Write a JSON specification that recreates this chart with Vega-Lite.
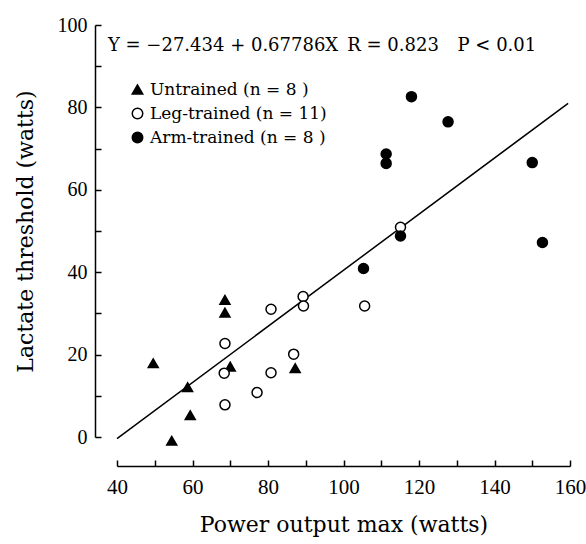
{
  "$schema": "https://vega.github.io/schema/vega-lite/v6.json",
  "width": 453,
  "height": 412,
  "autosize": "none",
  "padding": {"left": 117, "top": 25, "right": 16, "bottom": 107},
  "background": "white",
  "config": {
    "view": {"stroke": null},
    "font": "DejaVu Serif",
    "axis": {
      "grid": false,
      "domainColor": "black",
      "tickColor": "black",
      "labelColor": "black",
      "titleColor": "black",
      "labelFont": "Liberation Serif",
      "titleFont": "DejaVu Serif",
      "titleFontWeight": "normal",
      "domainWidth": 1.5,
      "tickWidth": 1.5,
      "labelOverlap": false
    }
  },
  "datasets": {
    "points": [
      {"x": 68.6, "y": 33.3, "group": "Untrained"},
      {"x": 68.6, "y": 30.2, "group": "Untrained"},
      {"x": 49.6, "y": 17.9, "group": "Untrained"},
      {"x": 70.0, "y": 17.1, "group": "Untrained"},
      {"x": 87.2, "y": 16.7, "group": "Untrained"},
      {"x": 58.7, "y": 12.1, "group": "Untrained"},
      {"x": 59.4, "y": 5.3, "group": "Untrained"},
      {"x": 54.5, "y": -0.9, "group": "Untrained"},
      {"x": 68.6, "y": 22.7, "group": "Leg-trained"},
      {"x": 68.4, "y": 15.5, "group": "Leg-trained"},
      {"x": 68.6, "y": 7.8, "group": "Leg-trained"},
      {"x": 77.1, "y": 10.8, "group": "Leg-trained"},
      {"x": 80.8, "y": 15.6, "group": "Leg-trained"},
      {"x": 80.8, "y": 31.0, "group": "Leg-trained"},
      {"x": 86.8, "y": 20.1, "group": "Leg-trained"},
      {"x": 89.3, "y": 34.1, "group": "Leg-trained"},
      {"x": 89.4, "y": 31.8, "group": "Leg-trained"},
      {"x": 105.6, "y": 31.8, "group": "Leg-trained"},
      {"x": 115.1, "y": 50.9, "group": "Leg-trained"},
      {"x": 111.3, "y": 68.7, "group": "Arm-trained"},
      {"x": 111.3, "y": 66.4, "group": "Arm-trained"},
      {"x": 150.0, "y": 66.6, "group": "Arm-trained"},
      {"x": 152.7, "y": 47.2, "group": "Arm-trained"},
      {"x": 115.1, "y": 48.8, "group": "Arm-trained"},
      {"x": 105.3, "y": 40.9, "group": "Arm-trained"},
      {"x": 118.0, "y": 82.6, "group": "Arm-trained"},
      {"x": 127.7, "y": 76.5, "group": "Arm-trained"}
    ],
    "fit": [
      {"x": 40, "y": -0.4},
      {"x": 159.5, "y": 81.0}
    ],
    "note": [
      {"x": 37.6, "y": 94.8, "text": "Y = −27.434 + 0.67786X"},
      {"x": 101.0, "y": 94.8, "text": "R = 0.823"},
      {"x": 130.2, "y": 94.8, "text": "P < 0.01"}
    ]
  },
  "encoding": {
    "x": {
      "field": "x",
      "type": "quantitative",
      "scale": {"domain": [40, 160], "nice": false, "zero": false},
      "axis": {
        "title": "Power output max (watts)",
        "values": [40, 50, 60, 70, 80, 90, 100, 110, 120, 130, 140, 150, 160],
        "labelExpr": "datum.value % 20 == 0 ? datum.label : ''",
        "tickSize": -6,
        "offset": 29,
        "labelFontSize": 21,
        "labelPadding": 16,
        "titleFontSize": 22,
        "titlePadding": 17,
        "labelFlush": false
      }
    },
    "y": {
      "field": "y",
      "type": "quantitative",
      "scale": {"domain": [0, 100], "nice": false},
      "axis": {
        "title": "Lactate threshold (watts)",
        "values": [0, 10, 20, 30, 40, 50, 60, 70, 80, 90, 100],
        "labelExpr": "datum.value % 20 == 0 ? datum.label : ''",
        "tickSize": -6,
        "offset": 22,
        "labelFontSize": 20,
        "labelPadding": 14,
        "titleFontSize": 22,
        "titlePadding": 20,
        "labelFlush": false
      }
    }
  },
  "layer": [
    {
      "data": {"name": "fit"},
      "mark": {"type": "line", "color": "black", "strokeWidth": 1.5}
    },
    {
      "data": {"name": "points"},
      "mark": {"type": "point", "filled": true, "strokeWidth": 1.5, "size": 100, "opacity": 1},
      "encoding": {
        "shape": {
          "field": "group",
          "type": "nominal",
          "scale": {"domain": ["Untrained", "Leg-trained", "Arm-trained"], "range": ["triangle-up", "circle", "circle"]},
          "legend": {
            "title": null,
            "orient": "none",
            "legendX": 12,
            "legendY": 56,
            "labelFontSize": 17,
            "labelFont": "DejaVu Serif",
            "labelColor": "black",
            "symbolSize": 110,
            "rowPadding": 6,
            "symbolStrokeWidth": 1.5,
            "labelLimit": 300,
            "labelExpr": "datum.label == 'Untrained' ? 'Untrained (n = 8 )' : datum.label == 'Leg-trained' ? 'Leg-trained (n = 11)' : 'Arm-trained (n = 8 )'"
          }
        },
        "fill": {
          "field": "group",
          "type": "nominal",
          "scale": {"domain": ["Untrained", "Leg-trained", "Arm-trained"], "range": ["black", "white", "black"]},
          "legend": {
            "title": null,
            "orient": "none",
            "legendX": 12,
            "legendY": 56,
            "labelFontSize": 17,
            "labelFont": "DejaVu Serif",
            "labelColor": "black",
            "symbolSize": 110,
            "rowPadding": 6,
            "symbolStrokeWidth": 1.5,
            "labelLimit": 300,
            "labelExpr": "datum.label == 'Untrained' ? 'Untrained (n = 8 )' : datum.label == 'Leg-trained' ? 'Leg-trained (n = 11)' : 'Arm-trained (n = 8 )'"
          }
        },
        "stroke": {
          "field": "group",
          "type": "nominal",
          "scale": {"domain": ["Untrained", "Leg-trained", "Arm-trained"], "range": ["black", "black", "black"]},
          "legend": {
            "title": null,
            "orient": "none",
            "legendX": 12,
            "legendY": 56,
            "labelFontSize": 17,
            "labelFont": "DejaVu Serif",
            "labelColor": "black",
            "symbolSize": 110,
            "rowPadding": 6,
            "symbolStrokeWidth": 1.5,
            "labelLimit": 300,
            "labelExpr": "datum.label == 'Untrained' ? 'Untrained (n = 8 )' : datum.label == 'Leg-trained' ? 'Leg-trained (n = 11)' : 'Arm-trained (n = 8 )'"
          }
        }
      }
    },
    {
      "data": {"name": "note"},
      "mark": {"type": "text", "align": "left", "baseline": "middle", "fontSize": 18, "font": "DejaVu Serif", "color": "black"},
      "encoding": {"text": {"field": "text", "type": "nominal"}}
    }
  ]
}
